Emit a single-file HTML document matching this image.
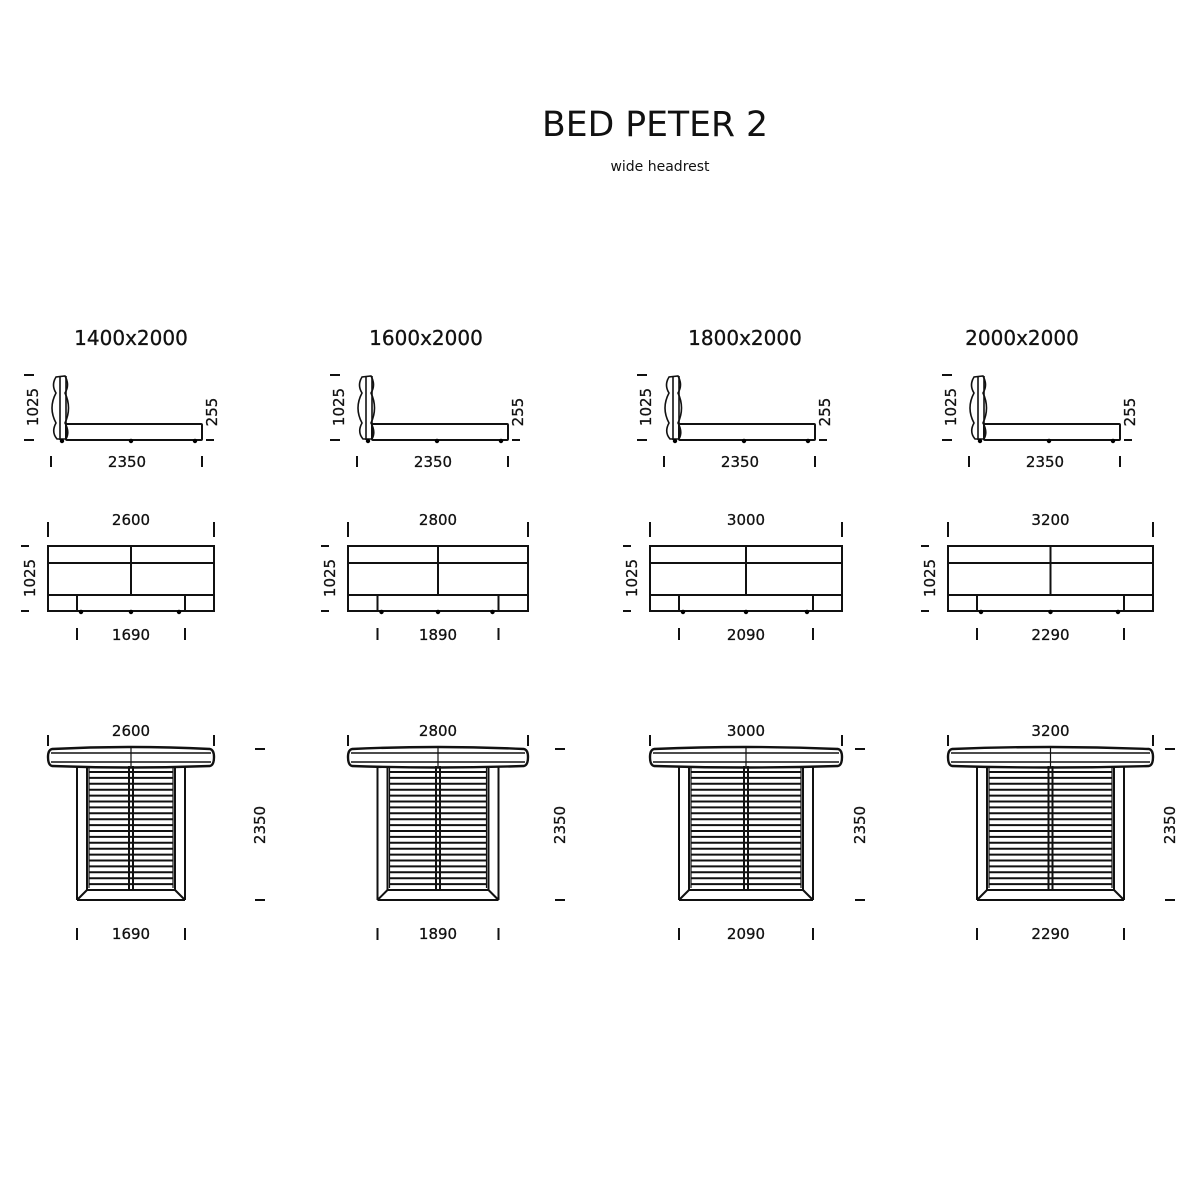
<!DOCTYPE html>
<html><head><meta charset="utf-8"><style>
html,body{margin:0;padding:0;background:#fff}
svg{display:block}
text{font-family:"DejaVu Sans","Liberation Sans",sans-serif;fill:#111}
</style></head><body>
<svg id="s" width="1200" height="1200" viewBox="0 0 1200 1200" xmlns="http://www.w3.org/2000/svg">
<rect width="1200" height="1200" fill="#fff"/>
<text x="655" y="136" font-size="35" text-anchor="middle" textLength="226" lengthAdjust="spacingAndGlyphs">BED PETER 2</text>
<text x="660" y="171" font-size="14" text-anchor="middle">wide headrest</text>
</svg>
<script>
var s=document.getElementById('s'),o='';
function L(x1,y1,x2,y2,w){o+='<line x1="'+x1+'" y1="'+y1+'" x2="'+x2+'" y2="'+y2+'" stroke="#111" stroke-width="'+(w||2)+'"/>';}
function R(x,y,w,h,sw,rx){o+='<rect x="'+x+'" y="'+y+'" width="'+w+'" height="'+h+'" fill="none" stroke="#111" stroke-width="'+(sw||2)+'" rx="'+(rx||0)+'"/>';}
function T(x,y,t,sz,rot){o+='<text x="'+x+'" y="'+y+'" font-size="'+sz+'" text-anchor="middle" stroke="#111" stroke-width="0.3"'+(rot?' transform="rotate(-90 '+x+' '+y+')"':'')+'>'+t+'</text>';}
var cols=[
 {t:'1400x2000',tc:131,s:0,L:48,W:166,iw:108,fw:'2600',iwt:'1690',rd:260},
 {t:'1600x2000',tc:426,s:306,L:348,W:180,iw:121,fw:'2800',iwt:'1890',rd:560},
 {t:'1800x2000',tc:745,s:613,L:650,W:192,iw:134,fw:'3000',iwt:'2090',rd:860},
 {t:'2000x2000',tc:1022,s:918,L:948,W:205,iw:147,fw:'3200',iwt:'2290',rd:1170}];
cols.forEach(function(c){
 T(c.tc,345,c.t,20);
 var s0=c.s;
 L(s0+24,375,s0+34,375);L(s0+24,440,s0+34,440);T(s0+38,407,'1025',15,1);
 o+='<path d="M'+(s0+56)+' 377 Q'+(s0+51)+' 385 '+(s0+56)+' 393 Q'+(s0+48)+' 408 '+(s0+56)+' 423 Q'+(s0+51)+' 432 '+(s0+57)+' 439 L'+(s0+66)+' 439 Q'+(s0+70)+' 432 '+(s0+65)+' 423 Q'+(s0+72)+' 408 '+(s0+65)+' 393 Q'+(s0+70)+' 385 '+(s0+65)+' 376 Z" fill="none" stroke="#111" stroke-width="1.6"/>';
 L(s0+60,376,s0+60,440,1.6);L(s0+66,376,s0+66,440,1.6);
 R(s0+66,424,136,16,2,1);
 o+='<circle cx="'+(s0+62)+'" cy="441" r="2.2"/><circle cx="'+(s0+131)+'" cy="441" r="2.2"/><circle cx="'+(s0+195)+'" cy="441" r="2.2"/>';
 L(s0+206,440,s0+214,440);T(s0+217,412,'255',15,1);
 L(s0+51,456,s0+51,467);L(s0+202,456,s0+202,467);T(s0+127,467,'2350',15);
 var x=c.L,w=c.W,cx=x+w/2,ix=cx-c.iw/2;
 L(x,522,x,537);L(x+w,522,x+w,537);T(cx,525,c.fw,15);
 R(x,546,w,65);L(x,563,x+w,563);L(cx,546,cx,595);L(x,595,x+w,595);
 L(ix,595,ix,611);L(ix+c.iw,595,ix+c.iw,611);
 o+='<circle cx="'+(ix+4)+'" cy="612" r="2.2"/><circle cx="'+cx+'" cy="612" r="2.2"/><circle cx="'+(ix+c.iw-6)+'" cy="612" r="2.2"/>';
 L(x-27,546,x-19,546);L(x-27,611,x-19,611);T(x-13,578,'1025',15,1);
 L(ix,628,ix,640);L(ix+c.iw,628,ix+c.iw,640);T(cx,640,c.iwt,15);
 L(x,735,x,746);L(x+w,735,x+w,746);T(cx,736,c.fw,15);
 o+='<path d="M'+(x+4)+' 749 Q'+cx+' 745 '+(x+w-4)+' 749 Q'+(x+w)+' 750 '+(x+w)+' 757 Q'+(x+w)+' 765 '+(x+w-4)+' 766 Q'+cx+' 769 '+(x+4)+' 766 Q'+x+' 765 '+x+' 757 Q'+x+' 750 '+(x+4)+' 749 Z" fill="none" stroke="#111" stroke-width="2.4"/>';
 L(x+3,753,x+w-3,753,1.4);L(x+3,762,x+w-3,762,1.4);L(cx,748,cx,768,1.2);
 var fr=ix+c.iw,fi=ix+10,fo=fr-10;
 L(ix,766,ix,900);L(fr,766,fr,900);L(ix,900,fr,900);
 L(fi,766,fi,890);L(fo,766,fo,890);L(fi,890,fo,890);L(ix,900,fi,890);L(fr,900,fo,890);
 L(fi+2,766,fi+2,888,1.2);L(fo-2,766,fo-2,888,1.2);
 for(var yy=772;yy<=888;yy+=5.9){L(fi+2,yy,fo-2,yy,2);}
 L(cx-2,766,cx-2,890,2);L(cx+2,766,cx+2,890,2);
 var r=c.rd;L(r-5,749,r+5,749);L(r-5,900,r+5,900);T(r+5,825,'2350',15,1);
 L(ix,928,ix,940);L(fr,928,fr,940);T(cx,939,c.iwt,15);
});
s.insertAdjacentHTML('beforeend',o);
</script>
</body></html>
